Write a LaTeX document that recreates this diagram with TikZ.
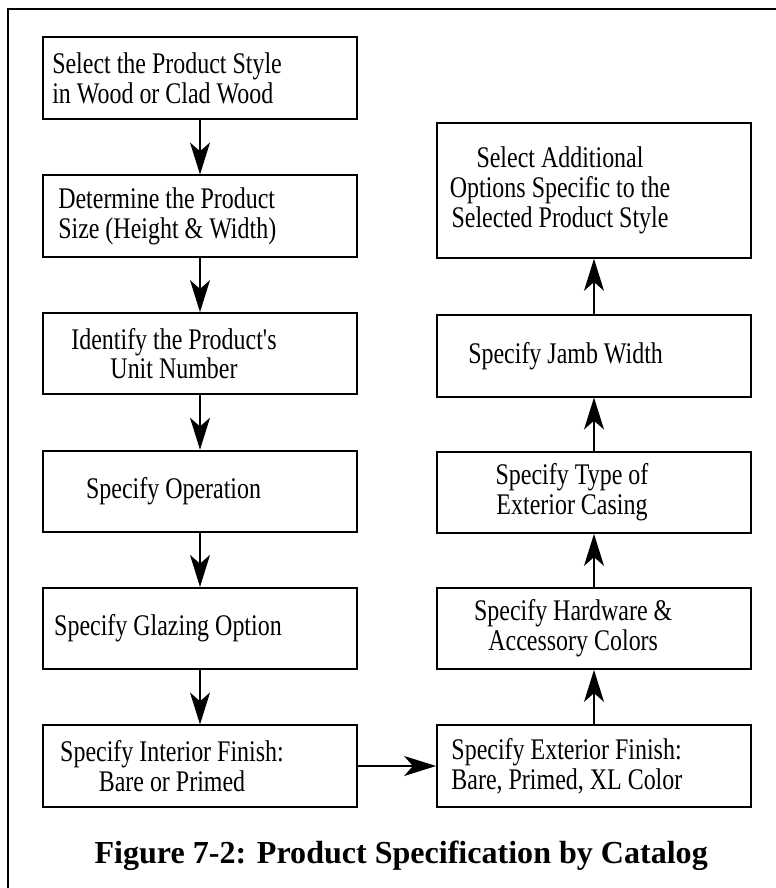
\documentclass[tikz,border=0pt]{standalone}
\usepackage{fontspec}
\setmainfont{Liberation Serif}
\newfontfamily\boxfont[FakeStretch=0.8]{Liberation Serif}
\usetikzlibrary{arrows.meta}

\begin{document}
\begin{tikzpicture}[
    stepbox/.style={draw, line width=1.3pt, minimum width=7.85cm, minimum height=2.03cm},
    steptext/.style={font=\boxfont\fontsize{21.3}{21.3}\selectfont, inner sep=0pt},
    flow/.style={line width=0.9pt, -{Stealth[length=0.8cm, width=0.5cm, inset=0.22cm]}}
]
    \useasboundingbox (0,0) rectangle (19.4,-22.2);

    % Frame
    \draw[line width=1.4pt] (0.2,-22.2) -- (0.2,-0.225) -- (19.4,-0.225);

    % Left column
    \node[stepbox] (style) at (5,-1.95) {};
    \node[stepbox] (size) at (5,-5.4) {};
    \node[stepbox] (unit) at (5,-8.84) {};
    \node[stepbox] (operation) at (5,-12.28) {};
    \node[stepbox] (glazing) at (5,-15.71) {};
    \node[stepbox] (interior) at (5,-19.15) {};

    % Right column
    \node[stepbox] (exterior) at (14.85,-19.15) {};
    \node[stepbox] (hardware) at (14.85,-15.71) {};
    \node[stepbox] (casing) at (14.85,-12.31) {};
    \node[stepbox] (jamb) at (14.85,-8.9) {};
    \node[stepbox, minimum height=3.375cm] (options) at (14.85,-4.76) {};

    % Texts
    \node[steptext, anchor=west, align=left] (style-t) at (1.3,-1.95)
        {Select the Product Style\\in Wood or Clad Wood};
    \node[steptext, anchor=west, align=left] (size-t) at (1.45,-5.4)
        {Determine the Product\\Size (Height \& Width)};
    \node[steptext, align=center] (unit-t) at (4.35,-8.84)
        {Identify the Product's\\Unit Number};
    \node[steptext] (operation-t) at (4.34,-12.28) {Specify Operation};
    \node[steptext] (glazing-t) at (4.2,-15.71) {Specify Glazing Option};
    \node[steptext, align=center] (interior-t) at (4.3,-19.15)
        {Specify Interior Finish:\\Bare or Primed};
    \node[steptext, anchor=west, align=left] (exterior-t) at (11.28,-19.15)
        {Specify Exterior Finish:\\Bare, Primed, XL Color};
    \node[steptext, align=center] (hardware-t) at (14.33,-15.71)
        {Specify Hardware \&\\Accessory Colors};
    \node[steptext, align=center] (casing-t) at (14.3,-12.31)
        {Specify Type of\\Exterior Casing};
    \node[steptext] (jamb-t) at (14.14,-8.9) {Specify Jamb Width};
    \node[steptext, align=center] (options-t) at (14.0,-4.76)
        {Select Additional\\Options Specific to the\\Selected Product Style};

    % Arrows
    \draw[flow] (style) -- (size);
    \draw[flow] (size) -- (unit);
    \draw[flow] (unit) -- (operation);
    \draw[flow] (operation) -- (glazing);
    \draw[flow] (glazing) -- (interior);
    \draw[flow] (interior) -- (exterior);
    \draw[flow] (exterior) -- (hardware);
    \draw[flow] (hardware) -- (casing);
    \draw[flow] (casing) -- (jamb);
    \draw[flow] (jamb) -- (options);

    % Caption
    \node[anchor=base, font=\bfseries\fontsize{22.8}{22.8}\selectfont, inner sep=0pt] (caption)
        at (10.03,-21.575) {Figure 7-2: Product Specification by Catalog};
\end{tikzpicture}
\end{document}
